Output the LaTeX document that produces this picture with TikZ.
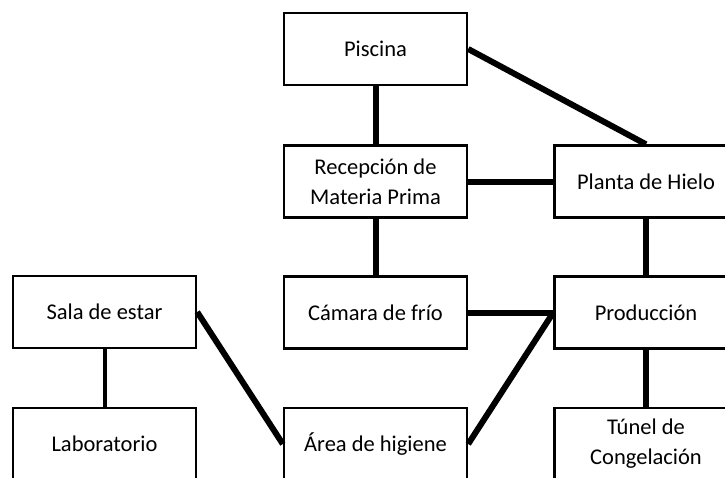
\documentclass[tikz,border=0pt]{standalone}
\usepackage{fontspec}
\setmainfont{Carlito}
\usetikzlibrary{positioning}

\begin{document}
\begin{tikzpicture}[x=1pt, y=-1pt,
    every node/.style={draw, line width=2.4pt, minimum width=183pt, minimum height=72pt, align=center, font=\fontsize{22.5}{30}\selectfont},
    link/.style={line width=6pt}]
      \useasboundingbox (0, 0) rectangle (725, 477);
      \clip (0, 0) rectangle (725, 477);
      \node (piscina) at (375.5, 49) {Piscina};
      \node (recepcion) at (375.5, 181.5) {Recepción de\\Materia Prima};
      \node (planta) at (646, 181.5) {Planta de Hielo};
      \node (sala) at (104.5, 312) {Sala de estar};
      \node (camara) at (375.5, 312.5) {Cámara de frío};
      \node (produccion) at (646, 312.5) {Producción};
      \node (lab) at (104.5, 444) {Laboratorio};
      \node (area) at (375.5, 444) {Área de higiene};
      \node (tunel) at (646, 444) {Túnel de\\Congelación};
      \draw[link] (piscina) -- (recepcion);
      \draw[link] (piscina.east) -- (planta.north);
      \draw[link] (recepcion) -- (planta);
      \draw[link] (recepcion) -- (camara);
      \draw[link] (planta) -- (produccion);
      \draw[link] (camara) -- (produccion);
      \draw[link] (produccion) -- (tunel);
      \draw[link] (sala.east) -- (area.west);
      \draw[link] (area.east) -- (produccion.west);
      \draw[line width=4pt] (sala) -- (lab);
    \end{tikzpicture}
\end{document}
